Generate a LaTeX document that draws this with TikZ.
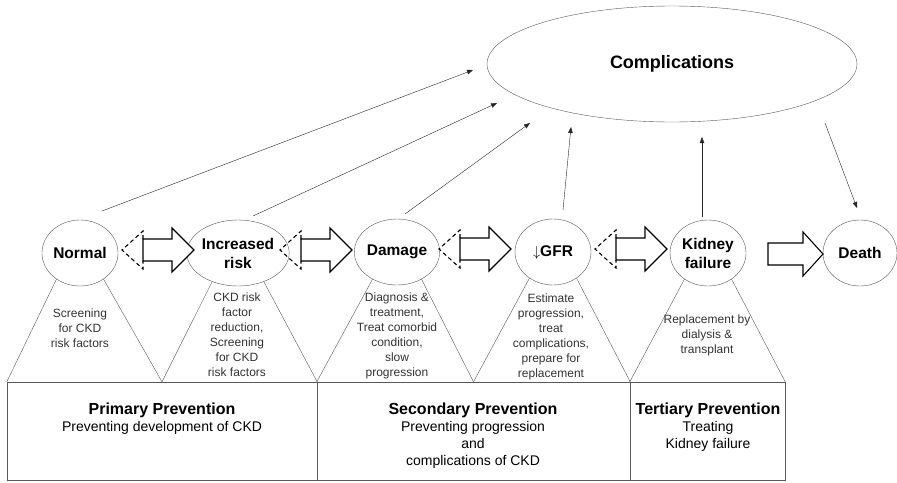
\documentclass[tikz,border=0pt]{standalone}
\usepackage{fontspec}
\setmainfont{Liberation Sans}
\usetikzlibrary{shapes.geometric,arrows.meta}

\tikzset{
	stage/.style={draw=black!65, ellipse, minimum width=76pt, minimum height=66pt, inner sep=0pt, align=center, font=\fontsize{15.5}{19}\selectfont\bfseries},
	note/.style={align=center, text=black!80, font=\fontsize{12}{15}\selectfont},
	level/.style={draw=black!65, rectangle, minimum height=98pt, inner sep=0pt},
	levtxt/.style={align=center, font=\fontsize{14}{17}\selectfont},
	side/.style={draw=black!65},
	link/.style={-{Triangle[length=6pt,width=4.5pt]}, black!85},
	fat/.style={draw=black, line width=1.1pt, fill=white},
	ghost/.style={draw=black, line width=1.1pt, dash pattern=on 4pt off 3pt}
}

\begin{document}
\begin{tikzpicture}[x=1pt, y=-1pt]
	\useasboundingbox (0,0) rectangle (897,482);
	
	% Komplikationen
	\node (comp) [draw=black!65, ellipse, minimum width=370pt, minimum height=116pt, font=\fontsize{18}{20}\selectfont\bfseries] at (672,64) {Complications};
	
	% Stadien
	\node (norm) [stage] at (80,253) {Normal};
	\node (incr) [stage] at (238,253) {Increased\\risk};
	\node (dam) [stage] at (397,252) {Damage};
	\node (gfr) [stage] at (553,252) {$\downarrow$GFR};
	\node (kf) [stage] at (708,253) {Kidney\\failure};
	\node (death) [stage, minimum width=74pt] at (860,253) {Death};
	
	% Blockpfeile
	\foreach \s in {norm,incr,dam,gfr} {
		\begin{scope}[shift={(\s)}]
			\draw[ghost] (63,-14) -- (63,-22) -- (42,-3) -- (63,16) -- (63,8);
			\draw[fat] (63,-14) -- (92,-14) -- (92,-25) -- (114,-3) -- (92,19) -- (92,8) -- (63,8) -- cycle;
		\end{scope}
	}
	\begin{scope}[shift={(kf)}]
		\draw[fat] (60,-10) -- (95,-10) -- (95,-21) -- (115,1) -- (95,23) -- (95,12) -- (60,12) -- cycle;
	\end{scope}
	
	% Pfeile zu Komplikationen
	\draw[link] ([shift={(22,-42)}]norm.center) -- ([shift={(-199,6)}]comp.center);
	\draw[link] ([shift={(15,-37)}]incr.center) -- ([shift={(-175,39)}]comp.center);
	\draw[link] ([shift={(8,-38)}]dam.center) -- ([shift={(-142,59)}]comp.center);
	\draw[link] ([shift={(10,-42)}]gfr.center) -- ([shift={(-101,63)}]comp.center);
	\draw[link] ([shift={(-6,-36)}]kf.center) -- ([shift={(30,73)}]comp.center);
	\draw[link] ([shift={(153,59)}]comp.center) -- ([shift={(-3,-45)}]death.center);
	
	% Praevention
	\node (prim) [level, minimum width=310pt] at (162,431) {};
	\node (sec) [level, minimum width=313pt] at (473.5,431) {};
	\node (tert) [level, minimum width=155pt] at (707.5,431) {};
	
	\node (primtxt) [levtxt] at (162,419) {{\fontsize{16}{17}\selectfont\bfseries Primary Prevention}\\Preventing development of CKD};
	\node (sectxt) [levtxt] at (473,436) {{\fontsize{16}{17}\selectfont\bfseries Secondary Prevention}\\Preventing progression\\and\\complications of CKD};
	\node (terttxt) [levtxt] at (708,427) {{\fontsize{16}{17}\selectfont\bfseries Tertiary Prevention}\\Treating\\Kidney failure};
	
	% Dreiecke
	\draw[side] (prim.north west) -- (norm.228);
	\draw[side] (norm.312) -- (prim.north);
	\draw[side] (prim.north) -- (incr.228);
	\draw[side] (incr.312) -- (prim.north east);
	\draw[side] (sec.north west) -- (dam.228);
	\draw[side] (dam.312) -- (sec.north);
	\draw[side] (sec.north) -- (gfr.228);
	\draw[side] (gfr.312) -- (sec.north east);
	\draw[side] (tert.north west) -- (kf.228);
	\draw[side] (kf.312) -- (tert.north east);
	
	% Massnahmen
	\node (normtxt) [note] at (80,328) {Screening\\for CKD\\risk factors};
	\node (incrtxt) [note] at (237,335) {CKD risk\\factor\\reduction,\\Screening\\for CKD\\risk factors};
	\node (damtxt) [note] at (397,336) {Diagnosis \&\\treatment,\\Treat comorbid\\condition,\\slow\\progression};
	\node (gfrtxt) [note] at (551,337) {Estimate\\progression,\\treat\\complications,\\prepare for\\replacement};
	\node (kftxt) [note] at (707,335) {Replacement by\\dialysis \&\\transplant};
	
\end{tikzpicture}
\end{document}
